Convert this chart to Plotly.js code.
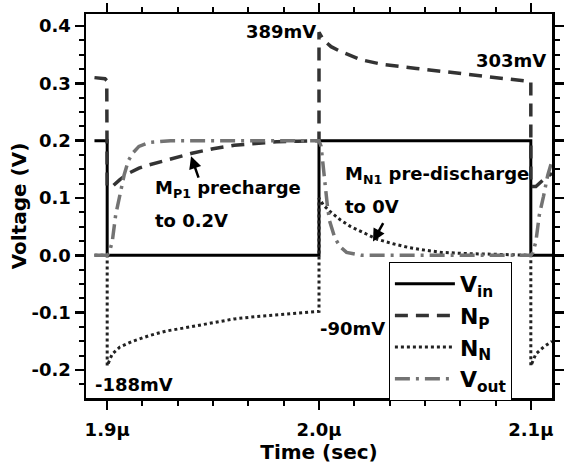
<!DOCTYPE html>
<html>
<head>
<meta charset="utf-8">
<script src="https://cdn.plot.ly/plotly-3.0.1.min.js"></script>
<style>html,body{margin:0;padding:0;background:#fff;}#chart{width:568px;height:464px;}</style>
</head>
<body>
<div id="chart"></div>
<script>
// Time in microseconds
const vinT = [1.894, 1.9, 1.9, 2.0, 2.0, 2.1, 2.1, 2.11];
const vinV = [0.2, 0.2, 0, 0, 0.2, 0.2, 0, 0];

const npT = [1.894, 1.897, 1.899, 1.8998, 1.9, 1.9024, 1.906, 1.91, 1.915, 1.92, 1.925, 1.93, 1.935, 1.94, 1.95, 1.96, 1.97, 1.98, 1.99, 2.0,
             2.0, 2.002, 2.0057, 2.01, 2.02, 2.03, 2.046, 2.065, 2.08, 2.09, 2.1, 2.1, 2.1024, 2.106, 2.11];
const npV = [0.31, 0.309, 0.308, 0.305, 0.12, 0.12, 0.132, 0.143, 0.152, 0.158, 0.163, 0.168, 0.173, 0.178, 0.186, 0.192, 0.195, 0.198, 0.199, 0.2,
             0.389, 0.376, 0.364, 0.356, 0.341, 0.333, 0.326, 0.318, 0.312, 0.308, 0.303, 0.12, 0.12, 0.132, 0.143];

const nnT = [1.894, 1.9, 1.9, 1.9024, 1.906, 1.912, 1.92, 1.928, 1.936, 1.944, 1.952, 1.96, 1.97, 1.984, 1.992, 2.0,
             2.0, 2.002, 2.005, 2.01, 2.015, 2.02, 2.0275, 2.035, 2.043, 2.05, 2.058, 2.07, 2.085, 2.1,
             2.1, 2.1024, 2.106, 2.11];
const nnV = [0, 0, -0.193, -0.172, -0.16, -0.15, -0.14, -0.132, -0.127, -0.122, -0.116, -0.111, -0.107, -0.103, -0.1, -0.098,
             0.1, 0.088, 0.077, 0.062, 0.05, 0.041, 0.028, 0.02, 0.013, 0.009, 0.005, 0.003, 0.001, 0,
             -0.193, -0.172, -0.16, -0.15];

const voutT = [1.894, 1.9, 1.901, 1.9024, 1.904, 1.906, 1.908, 1.91, 1.912, 1.915, 1.92, 1.93, 2.0,
               2.001, 2.002, 2.003, 2.004, 2.005, 2.0075, 2.01, 2.013, 2.02, 2.1,
               2.101, 2.1024, 2.104, 2.106, 2.108, 2.11];
const voutV = [0, 0, 0.005, 0.024, 0.07, 0.103, 0.14, 0.165, 0.178, 0.19, 0.197, 0.2, 0.2,
               0.19, 0.16, 0.12, 0.085, 0.06, 0.03, 0.015, 0.005, 0, 0,
               0.005, 0.024, 0.07, 0.103, 0.14, 0.165];

const xTickVals = [1.9, 2.0, 2.1];
const xTickText = ['1.9\u03bc', '2.0\u03bc', '2.1\u03bc'];
const yTickVals = [-0.2, -0.1, 0.0, 0.1, 0.2, 0.3, 0.4];
const yTickText = ['-0.2', '-0.1', '0.0', '0.1', '0.2', '0.3', '0.4'];

const FONT = 'DejaVu Sans, Liberation Sans, Arial, sans-serif';

const traces = [
  {x: vinT, y: vinV, name: 'V<sub>in</sub>', mode: 'lines', line: {color: '#000000', width: 3}},
  {x: npT, y: npV, name: 'N<sub>P</sub>', mode: 'lines', line: {color: '#333333', width: 3.5, dash: '13px,8px'}},
  {x: nnT, y: nnV, name: 'N<sub>N</sub>', mode: 'lines', line: {color: '#222222', width: 3, dash: '3px,3px'}},
  {x: voutT, y: voutV, name: 'V<sub>out</sub>', mode: 'lines', line: {color: '#737373', width: 3.5, dash: '15px,6px,3px,6px'}}
];

const axisCommon = {
  showgrid: false, zeroline: false, showline: true, linecolor: '#000', linewidth: 2.5,
  mirror: 'allticks', ticks: 'outside', ticklen: 9, tickwidth: 2.5, tickcolor: '#000',
  tickfont: {family: FONT, size: 18, color: '#000', weight: 'bold'}
};

const annFont = {family: FONT, size: 18, color: '#000', weight: 'bold'};

const layout = {
  width: 568, height: 464,
  margin: {l: 86, r: 16, t: 14, b: 66},
  paper_bgcolor: '#fff', plot_bgcolor: '#fff',
  font: {family: FONT, color: '#000'},
  showlegend: true,
  legend: {
    x: 0.65, y: 0.354, xanchor: 'left', yanchor: 'top',
    bgcolor: '#fff', bordercolor: '#000', borderwidth: 1,
    font: {family: FONT, size: 22, color: '#000', weight: 'bold'},
    itemwidth: 60, tracegroupgap: 0
  },
  xaxis: Object.assign({}, axisCommon, {
    range: [1.89, 2.11], tickmode: 'array', tickvals: xTickVals, ticktext: xTickText,
    ticklabelstandoff: 5,
    minor: {dtick: 1/60, tick0: 1.9, ticks: 'outside', ticklen: 5, tickwidth: 2, tickcolor: '#000'},
    title: {text: 'Time (sec)', font: {family: FONT, size: 20, color: '#000', weight: 'bold'}, standoff: 8}
  }),
  yaxis: Object.assign({}, axisCommon, {
    range: [-0.249, 0.421], tickmode: 'array', tickvals: yTickVals, ticktext: yTickText,
    ticklabelstandoff: 0,
    minor: {dtick: 0.025, tick0: 0, ticks: 'outside', ticklen: 5, tickwidth: 2, tickcolor: '#000'},
    title: {text: 'Voltage (V)', font: {family: FONT, size: 20, color: '#000', weight: 'bold'}, standoff: 0}
  }),
  annotations: [
    {x: 1.9995, y: 0.39, xref: 'x', yref: 'y', text: '389mV', showarrow: false, xanchor: 'right', yanchor: 'middle', font: annFont},
    {x: 2.108, y: 0.34, xref: 'x', yref: 'y', text: '303mV', showarrow: false, xanchor: 'right', yanchor: 'middle', font: annFont},
    {x: 1.8934, y: -0.225, xref: 'x', yref: 'y', text: '-188mV', showarrow: false, xanchor: 'left', yanchor: 'middle', font: annFont},
    {x: 1.9995, y: -0.127, xref: 'x', yref: 'y', text: '-90mV', showarrow: false, xanchor: 'left', yanchor: 'middle', font: annFont},
    {x: 1.9217, y: 0.115, xref: 'x', yref: 'y', text: 'M<sub>P1</sub> precharge', showarrow: false, xanchor: 'left', yanchor: 'middle', font: annFont},
    {x: 1.9217, y: 0.061, xref: 'x', yref: 'y', text: 'to 0.2V', showarrow: false, xanchor: 'left', yanchor: 'middle', font: annFont},
    {x: 2.0113, y: 0.14, xref: 'x', yref: 'y', text: 'M<sub>N1</sub> pre-discharge', showarrow: false, xanchor: 'left', yanchor: 'middle', font: annFont},
    {x: 2.0113, y: 0.085, xref: 'x', yref: 'y', text: 'to 0V', showarrow: false, xanchor: 'left', yanchor: 'middle', font: annFont},
    {x: 1.9396, y: 0.173, xref: 'x', yref: 'y', text: '', showarrow: true, arrowhead: 2, arrowsize: 1, arrowwidth: 2.5, arrowcolor: '#000', ax: 8, ay: 23},
    {x: 2.0255, y: 0.024, xref: 'x', yref: 'y', text: '', showarrow: true, arrowhead: 2, arrowsize: 1, arrowwidth: 2.5, arrowcolor: '#000', ax: 11, ay: -20}
  ]
};

Plotly.newPlot('chart', traces, layout, {displayModeBar: false, staticPlot: true});
</script>
</body>
</html>
